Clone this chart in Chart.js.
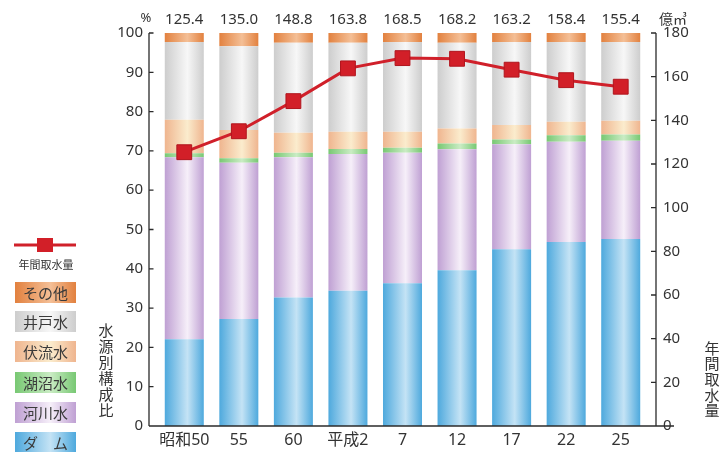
<!DOCTYPE html>
<html><head><meta charset="utf-8">
<script src="https://cdn.jsdelivr.net/npm/chart.js@4"></script>
<style>html,body{margin:0;padding:0;background:#fff}#wrap{width:722px;height:452px}</style>
</head><body><div id="wrap"><canvas id="c" width="722" height="452"></canvas></div>
<script>
const categories = ['昭和50','55','60','平成2','7','12','17','22','25'];
const dam        = [22.1,27.2,32.7,34.4,36.3,39.6,45.0,46.8,47.6];
const river      = [46.3,39.8,35.7,34.8,33.2,30.8,26.7,25.5,25.0];
const lake       = [1.0,1.1,1.1,1.3,1.3,1.5,1.2,1.7,1.6];
const subsurface = [8.5,7.2,5.1,4.4,4.1,3.8,3.7,3.4,3.5];
const well       = [19.8,21.3,22.9,22.6,22.8,21.8,21.1,20.3,20.0];
const other      = [2.3,3.4,2.5,2.5,2.3,2.5,2.3,2.3,2.3];
const intake     = [125.4,135.0,148.8,163.8,168.5,168.2,163.2,158.4,155.4];
const seriesNames = ['ダ　ム','河川水','湖沼水','伏流水','井戸水','その他'];
const lineName = '年間取水量';
const leftTitle = '水源別構成比';
const rightTitle = '年間取水量';

const TXT = '#333';
const FONT = '"Noto Sans", "Noto Sans CJK JP", sans-serif';
const CJK = '"Noto Sans CJK JP", sans-serif';
const palette = [
  ['#4ea9dd','#c4e3f5'],
  ['#bfa0d3','#f6eff9'],
  ['#78c873','#caecc4'],
  ['#efb58f','#fbeccd'],
  ['#cdcdcd','#f7f7f7'],
  ['#e2813f','#f4bf96']
];
const BAR_FRAC = 0.715;

function grad(c, x0, x1, cols){
  const g = c.createLinearGradient(x0,0,x1,0);
  g.addColorStop(0, cols[0]);
  g.addColorStop(0.58, cols[1]);
  g.addColorStop(1, cols[0]);
  return g;
}
function barBg(i){
  return function(ctx){
    const chart = ctx.chart;
    const xs = chart.scales.x;
    if(!chart.chartArea || !xs) return palette[i][0];
    const cx = xs.getPixelForValue(ctx.dataIndex);
    const w = xs.width/categories.length*BAR_FRAC;
    if(!isFinite(cx) || !isFinite(w)) return palette[i][0];
    return grad(chart.ctx, cx-w/2, cx+w/2, palette[i]);
  };
}
const values = [dam, river, lake, subsurface, well, other];
const datasets = [{
  type:'line', label: lineName, data: intake, yAxisID:'y2', order:0,
  borderColor:'#d0202a', borderWidth:3, pointStyle:'rect', pointRadius:10.5,
  pointBackgroundColor:'#d21f28', pointBorderColor:'#b0151d', pointBorderWidth:1,
  tension:0, fill:false
}];
values.forEach((v,i)=>datasets.push({
  type:'bar', label: seriesNames[i], data: v, yAxisID:'y', order:1,
  backgroundColor: barBg(i), borderWidth:0,
  categoryPercentage:1, barPercentage:BAR_FRAC
}));

const decor = {
  id:'decor',
  afterDraw(chart){
    const c = chart.ctx, y = chart.scales.y, y2 = chart.scales.y2, x = chart.scales.x;
    c.save();
    c.strokeStyle = '#2b2b2b'; c.lineWidth = 1.3;
    const y0 = y.getPixelForValue(0), y100 = y.getPixelForValue(100);
    const LX = 149, RX = 656;
    c.beginPath();
    c.moveTo(LX, y100); c.lineTo(LX, y0);
    c.moveTo(RX, y100); c.lineTo(RX, y0);
    c.moveTo(LX, y0); c.lineTo(674, y0);
    for(let v=10; v<=100; v+=10){ const p=y.getPixelForValue(v); c.moveTo(LX,p); c.lineTo(LX+4.5,p); }
    for(let v=20; v<=180; v+=20){ const p=y2.getPixelForValue(v); c.moveTo(RX,p); c.lineTo(RX-5,p); }
    c.stroke();
    // top value labels
    c.fillStyle = TXT; c.textAlign='center'; c.textBaseline='middle';
    c.font = '15px '+FONT;
    intake.forEach((v,i)=>c.fillText(v.toFixed(1), x.getPixelForValue(i), 20));
    c.font = '13px '+FONT; c.fillText('%', 146, 18);
    c.font = '14px '+CJK; c.textAlign='left'; c.fillText('億㎥', 659, 19);
    // vertical titles
    c.textAlign='center'; c.font='15px '+CJK;
    [...leftTitle].forEach((ch,k)=>c.fillText(ch, 106, 330+k*16));
    [...rightTitle].forEach((ch,k)=>c.fillText(ch, 712, 348+k*15.6));
    // legend
    c.strokeStyle='#d0202a'; c.lineWidth=3;
    c.beginPath(); c.moveTo(14,245); c.lineTo(76,245); c.stroke();
    c.fillStyle='#d21f28'; c.fillRect(37,238,16,14);
    c.fillStyle=TXT; c.font='11px '+CJK; c.fillText(lineName, 46, 265);
    const tops=[432,402,372,341,311,282];
    for(let i=0;i<6;i++){
      c.fillStyle = grad(c, 15, 76, palette[i]);
      c.fillRect(15, tops[i], 61, 21);
      c.fillStyle = '#3a3a3a'; c.font='15px '+CJK;
      c.fillText(seriesNames[i], 45.5, tops[i]+11);
    }
    c.restore();
  }
};

new Chart(document.getElementById('c'), {
  type:'bar',
  data:{ labels: categories, datasets },
  options:{
    responsive:false, animation:false,
    layout:{ padding:{ top:33, left:0, right:0, bottom:0 } },
    plugins:{ legend:{display:false}, tooltip:{enabled:false} },
    scales:{
      x:{ stacked:true, offset:true,
          grid:{display:false, drawTicks:false}, border:{display:false},
          ticks:{ color:TXT, font:{family:FONT, size:16}, padding:5, maxRotation:0, autoSkip:false },
          afterFit(s){ s.height = 26; } },
      y:{ position:'left', stacked:true, min:0, max:100,
          grid:{display:false, drawTicks:false}, border:{display:false},
          ticks:{ stepSize:10, color:TXT, font:{family:FONT, size:15}, padding:14 },
          afterFit(s){ s.width = 157; } },
      y2:{ position:'right', min:0, max:180,
          grid:{display:false, drawTicks:false}, border:{display:false},
          ticks:{ stepSize:20, color:TXT, font:{family:FONT, size:15}, padding:15 },
          afterFit(s){ s.width = 74; } }
    }
  },
  plugins:[decor]
});
</script></body></html>
